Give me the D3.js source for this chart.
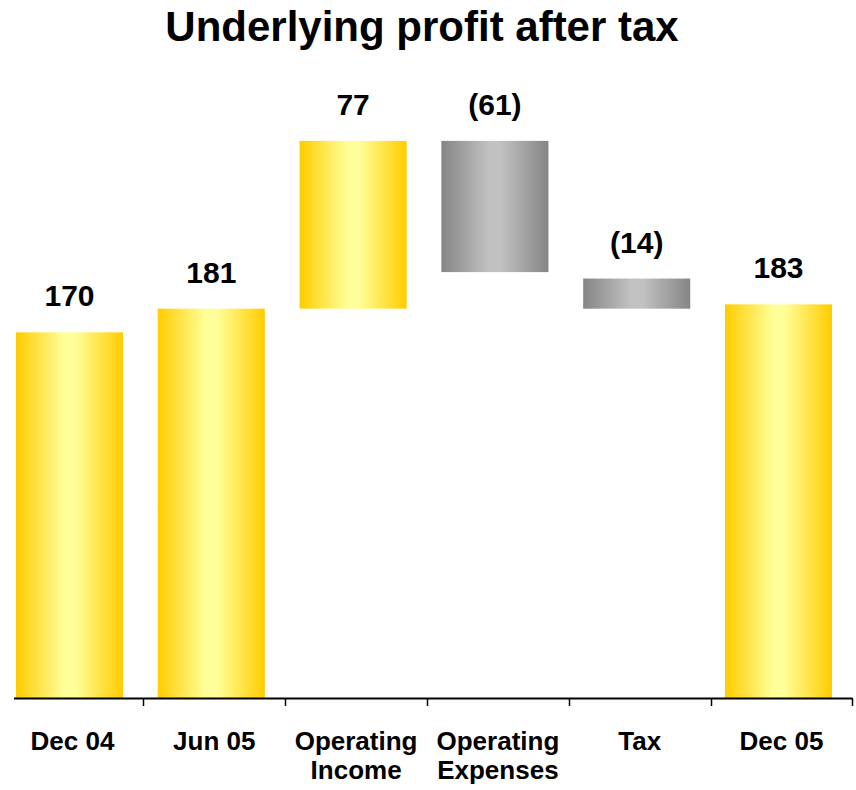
<!DOCTYPE html>
<html>
<head>
<meta charset="utf-8">
<script src="https://cdn.jsdelivr.net/npm/d3@7"></script>
<style>
  body { margin: 0; background: #fff; }
  text { font-family: "Liberation Sans", Arial, sans-serif; font-weight: bold; fill: #000; }
</style>
</head>
<body>
<svg id="chart"></svg>
<script>
// Data
var categories = ["Dec 04", "Jun 05", "Operating Income", "Operating Expenses", "Tax", "Dec 05"];
var barLow  = [0, 0, 181, 198, 181, 0];
var barHigh = [170, 181, 259, 259, 195, 183];
var valueLabels = ["170", "181", "77", "(61)", "(14)", "183"];
var barKind = ["total", "total", "up", "down", "down", "total"];

var width = 856, height = 790;
var baseline = 698;

var svg = d3.select('#chart')
    .attr('width', width)
    .attr('height', height);

// gradients
var defs = svg.append('defs');
function gradient(id, edge, mid) {
  var g = defs.append('linearGradient')
      .attr('id', id)
      .attr('x1', '0%').attr('x2', '100%')
      .attr('y1', '0%').attr('y2', '0%');
  g.append('stop').attr('offset', '0%').attr('stop-color', edge);
  g.append('stop').attr('offset', '45%').attr('stop-color', mid);
  g.append('stop').attr('offset', '55%').attr('stop-color', mid);
  g.append('stop').attr('offset', '100%').attr('stop-color', edge);
}
gradient('gold', '#FFCC00', '#FFFF99');
gradient('grey', '#858585', '#C2C2C2');

var x = d3.scaleBand()
    .domain(categories)
    .range([-1.4, 849.4])
    .paddingInner(0.245)
    .paddingOuter(0.1225);

var y = d3.scaleLinear()
    .domain([0, 300])
    .range([baseline, baseline - 300 * 2.151]);

// title
svg.append('text')
    .attr('x', 422)
    .attr('y', 41)
    .attr('text-anchor', 'middle')
    .style('font-size', '42px')
    .text('Underlying profit after tax');

// bars
svg.selectAll('rect.bar')
    .data(categories)
    .enter().append('rect')
    .attr('class', 'bar')
    .attr('x', function (d) { return x(d); })
    .attr('width', x.bandwidth())
    .attr('y', function (d, i) { return y(barHigh[i]); })
    .attr('height', function (d, i) { return y(barLow[i]) - y(barHigh[i]); })
    .attr('fill', function (d, i) { return barKind[i] === 'down' ? 'url(#grey)' : 'url(#gold)'; });

// value labels
svg.selectAll('text.value')
    .data(categories)
    .enter().append('text')
    .attr('class', 'value')
    .attr('x', function (d) { return x(d) + x.bandwidth() / 2; })
    .attr('y', function (d, i) { return y(barHigh[i]) - 26; })
    .attr('text-anchor', 'middle')
    .style('font-size', '30px')
    .text(function (d, i) { return valueLabels[i]; });

// x axis: line with ticks between categories
var step = x.step();
var axisG = svg.append('g').attr('class', 'axis');
axisG.append('line')
    .attr('x1', 14)
    .attr('x2', x(categories[categories.length - 1]) + x.bandwidth() + step * 0.245 / 2 + 3)
    .attr('y1', baseline + 0.5)
    .attr('y2', baseline + 0.5)
    .attr('stroke', '#000')
    .attr('stroke-width', 2);

axisG.selectAll('line.tick')
    .data(categories)
    .enter().append('line')
    .attr('class', 'tick')
    .attr('x1', function (d) { return Math.round(x(d) + x.bandwidth() + step * 0.245 / 2 + 3) + 0.5; })
    .attr('x2', function (d) { return Math.round(x(d) + x.bandwidth() + step * 0.245 / 2 + 3) + 0.5; })
    .attr('y1', baseline)
    .attr('y2', baseline + 8)
    .attr('stroke', '#000')
    .attr('stroke-width', 1.5);

// category labels (wrapped on space for two-word names)
axisG.selectAll('text.cat')
    .data(categories)
    .enter().append('text')
    .attr('class', 'cat')
    .attr('text-anchor', 'middle')
    .style('font-size', '26px')
    .each(function (d) {
      var t = d3.select(this);
      var cx = x(d) + x.bandwidth() / 2 + 3;
      var lines = d.indexOf('Operating') === 0 ? d.split(' ') : [d];
      lines.forEach(function (s, k) {
        t.append('tspan')
          .attr('x', cx)
          .attr('y', 750 + k * 29)
          .text(s);
      });
    });
</script>
</body>
</html>
